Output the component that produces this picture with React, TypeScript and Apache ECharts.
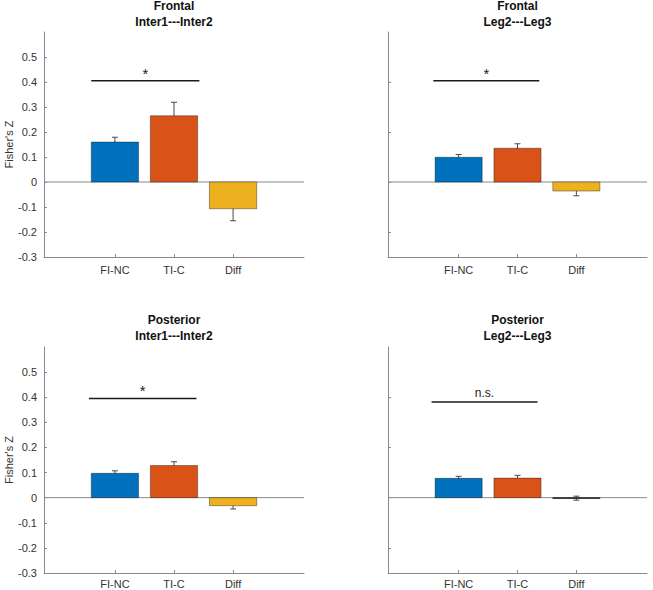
import React, { useEffect, useRef } from "react";
import * as echarts from "echarts";

const categories = ["FI-NC", "TI-C", "Diff"];
const barColors = ["#0072BD", "#D95319", "#EDB120"];

const panelTitles = [
  ["Frontal", "Inter1---Inter2"],
  ["Frontal", "Leg2---Leg3"],
  ["Posterior", "Inter1---Inter2"],
  ["Posterior", "Leg2---Leg3"],
];

const frontalInterMeans = [0.16, 0.265, -0.107];
const frontalInterErrors = [0.019, 0.054, 0.048];
const frontalLegMeans = [0.099, 0.135, -0.036];
const frontalLegErrors = [0.011, 0.018, 0.019];
const posteriorInterMeans = [0.097, 0.128, -0.032];
const posteriorInterErrors = [0.01, 0.015, 0.013];
const posteriorLegMeans = [0.077, 0.078, -0.002];
const posteriorLegErrors = [0.008, 0.011, 0.008];

const sigStart = [0.6, 0.57, 0.56, 0.54];
const sigEnd = [2.43, 2.37, 2.38, 2.34];
const sigLevel = [0.405, 0.405, 0.395, 0.381];
const sigLabels = ["*", "*", "*", "n.s."];

const yTicksLeft = [-0.3, -0.2, -0.1, 0, 0.1, 0.2, 0.3, 0.4, 0.5];
const yTicksRight = [-0.2, 0, 0.2, 0.4];

const FONT = "'Liberation Sans', Arial, Helvetica, sans-serif";

const panels = [
  { means: frontalInterMeans, errors: frontalInterErrors },
  { means: frontalLegMeans, errors: frontalLegErrors },
  { means: posteriorInterMeans, errors: posteriorInterErrors },
  { means: posteriorLegMeans, errors: posteriorLegErrors },
];

const grids = [
  { left: 44, top: 32, width: 260, height: 225 },
  { left: 388, top: 32, width: 259, height: 225 },
  { left: 44, top: 347, width: 260, height: 226 },
  { left: 388, top: 347, width: 259, height: 226 },
];

export default function App() {
  const ref = useRef<HTMLDivElement>(null);

  useEffect(() => {
    if (!ref.current) return;
    const chart = echarts.init(ref.current, null, { renderer: "svg" });
    const axisGray = "#8a8a8a";
    const textColor = "#333333";

    const xAxis: any[] = [];
    const yAxis: any[] = [];
    const series: any[] = [];
    const graphic: any[] = [];

    panels.forEach((p, i) => {
      const isLeft = i % 2 === 0;
      const isTop = i < 2;
      xAxis.push({
        type: "value",
        gridIndex: i,
        min: -0.2,
        max: 4.2,
        splitLine: { show: false },
        axisLine: { show: true, onZero: false, lineStyle: { color: axisGray, width: 1 } },
        axisTick: {
          show: true,
          inside: true,
          length: 3,
          customValues: [1, 2, 3],
          lineStyle: { color: axisGray },
        },
        axisLabel: {
          show: true,
          customValues: [1, 2, 3],
          formatter: (v: number) => categories[Math.round(v) - 1] ?? "",
          color: textColor,
          fontSize: 11,
          fontFamily: FONT,
          margin: isTop ? 7 : 5,
        },
      });
      yAxis.push({
        type: "value",
        gridIndex: i,
        min: -0.3,
        max: 0.6,
        splitLine: { show: false },
        axisLine: { show: true, onZero: false, lineStyle: { color: axisGray, width: 1 } },
        axisTick: {
          show: true,
          inside: true,
          length: 3,
          customValues: isLeft ? yTicksLeft : yTicksRight,
          lineStyle: { color: axisGray },
        },
        axisLabel: {
          show: isLeft,
          customValues: yTicksLeft,
          formatter: (v: number) => {
            const r = Math.round(v * 10) / 10;
            return r === 0 ? "0" : String(r);
          },
          color: textColor,
          fontSize: 11,
          fontFamily: FONT,
          margin: 7,
        },
        name: isLeft ? "Fisher's Z" : "",
        nameLocation: "middle",
        nameRotate: 90,
        nameGap: 26,
        nameTextStyle: { color: textColor, fontSize: 11, fontFamily: FONT },
      });

      // zero line
      series.push({
        type: "line",
        xAxisIndex: i,
        yAxisIndex: i,
        data: [
          [-0.2, 0],
          [4.2, 0],
        ],
        symbol: "none",
        lineStyle: { color: axisGray, width: 1 },
        z: 1,
        silent: true,
      });

      // error bars (drawn below bars, so inner half is hidden)
      series.push({
        type: "custom",
        xAxisIndex: i,
        yAxisIndex: i,
        z: 2,
        silent: true,
        data: p.means.map((m, k) => [k + 1, m, p.errors[k]]),
        encode: { x: 0, y: 1 },
        renderItem: (params: any, api: any) => {
          const x = api.value(0);
          const y = api.value(1);
          const e = api.value(2);
          const top = api.coord([x, y + e]);
          const bot = api.coord([x, y - e]);
          const cap = 3;
          const st = { stroke: "#4a4a4a", lineWidth: 1 };
          return {
            type: "group",
            children: [
              { type: "line", shape: { x1: top[0], y1: top[1], x2: bot[0], y2: bot[1] }, style: st },
              { type: "line", shape: { x1: top[0] - cap, y1: top[1], x2: top[0] + cap, y2: top[1] }, style: st },
              { type: "line", shape: { x1: bot[0] - cap, y1: bot[1], x2: bot[0] + cap, y2: bot[1] }, style: st },
            ],
          };
        },
      });

      // bars
      series.push({
        type: "custom",
        xAxisIndex: i,
        yAxisIndex: i,
        z: 3,
        silent: true,
        data: p.means.map((m, k) => [k + 1, m]),
        encode: { x: 0, y: 1 },
        renderItem: (params: any, api: any) => {
          const x = api.value(0);
          const y = api.value(1);
          const a = api.coord([x - 0.4, y]);
          const b = api.coord([x + 0.4, 0]);
          const h = Math.abs(b[1] - a[1]);
          const tiny = h < 2;
          return {
            type: "rect",
            shape: {
              x: a[0],
              y: Math.min(a[1], b[1]),
              width: b[0] - a[0],
              height: Math.max(h, 0.8),
            },
            style: {
              fill: tiny ? "#2a2a2a" : barColors[params.dataIndex],
              stroke: tiny ? "#2a2a2a" : "rgba(0,0,0,0.45)",
              lineWidth: 0.8,
            },
          };
        },
      });

      // significance bracket
      series.push({
        type: "custom",
        xAxisIndex: i,
        yAxisIndex: i,
        z: 4,
        silent: true,
        data: [[sigStart[i], sigEnd[i], sigLevel[i]]],
        encode: { x: [0, 1], y: 2 },
        renderItem: (params: any, api: any) => {
          const a = api.coord([api.value(0), api.value(2)]);
          const b = api.coord([api.value(1), api.value(2)]);
          const label = sigLabels[i];
          const isStar = label === "*";
          return {
            type: "group",
            children: [
              {
                type: "line",
                shape: { x1: a[0], y1: a[1], x2: b[0], y2: b[1] },
                style: { stroke: "#1a1a1a", lineWidth: 1.5 },
              },
              {
                type: "text",
                style: {
                  text: label,
                  x: (a[0] + b[0]) / 2,
                  y: a[1] - (isStar ? 0 : 3),
                  align: "center",
                  verticalAlign: "bottom",
                  textAlign: "center",
                  textVerticalAlign: "bottom",
                  font: isStar ? `15px ${FONT}` : `12px ${FONT}`,
                  fill: "#1a1a1a",
                },
              },
            ],
          };
        },
      });

      // titles
      const g = grids[i];
      const cx = g.left + g.width / 2;
      const titleTop = isTop ? 0 : 314;
      panelTitles[i].forEach((t, li) => {
        graphic.push({
          type: "text",
          x: cx,
          y: titleTop + li * 16,
          style: {
            text: t,
            font: `bold 12px ${FONT}`,
            fill: "#111",
            align: "center",
            textAlign: "center",
            verticalAlign: "top",
            textVerticalAlign: "top",
          },
        });
      });
    });

    chart.setOption({
      animation: false,
      backgroundColor: "#ffffff",
      grid: grids.map((g) => ({ ...g, containLabel: false })),
      xAxis,
      yAxis,
      series,
      graphic,
    });

    return () => chart.dispose();
  }, []);

  return (
    <div
      ref={ref}
      style={{ position: "absolute", left: 0, top: 0, width: 653, height: 590 }}
    />
  );
}
